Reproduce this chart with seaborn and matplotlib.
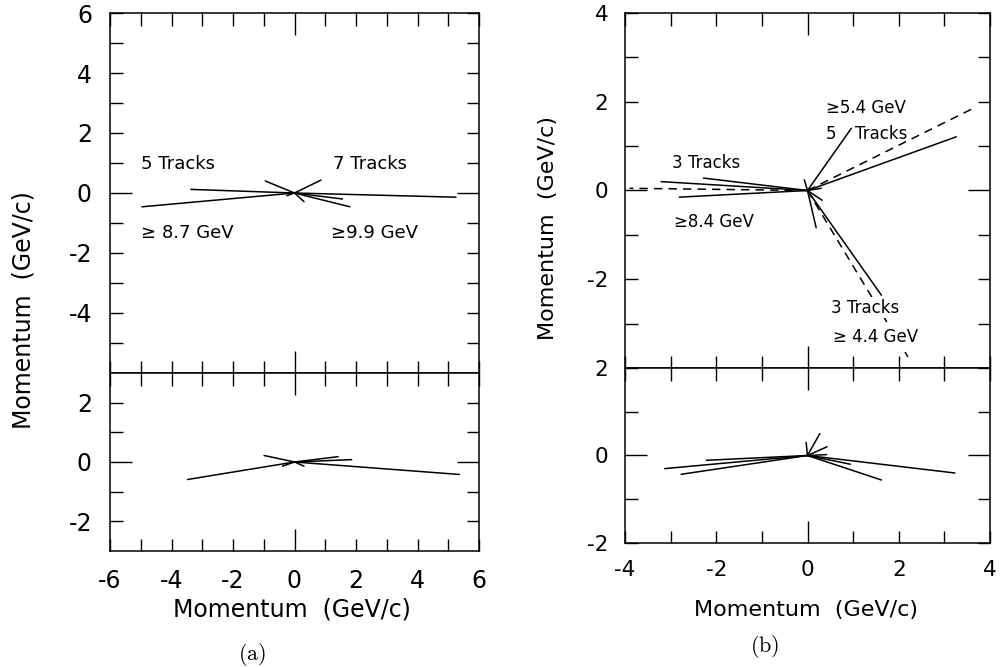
import seaborn as sns
import matplotlib.pyplot as plt
import pandas as pd
import numpy as np

# -----------------------------
# Track end points (tracks start at the origin)
# -----------------------------
# panel (a), upper view
a_top_x = [-4.96, -3.37, -0.95, -0.25, 5.25, 0.86, 1.56, 1.80, 0.31]
a_top_y = [-0.46, 0.12, 0.40, -0.09, -0.14, 0.43, -0.20, -0.46, -0.29]
a_top_kind = ["solid"] * 9

# panel (a), lower view
a_bot_x = [-3.48, 5.36, -0.99, 1.42, 1.86, 0.31, -0.39]
a_bot_y = [-0.59, -0.42, 0.22, 0.18, 0.08, -0.14, -0.14]
a_bot_kind = ["solid"] * 7

# panel (b), upper view
b_top_x = [3.26, 0.96, -3.21, -2.28, -2.81, 1.62, 0.19, 0.32, 0.30, -0.07, 3.61, -3.90, 2.20]
b_top_y = [1.21, 1.40, 0.20, 0.28, -0.15, -2.36, -0.84, -0.22, 0.05, 0.24, 1.84, 0.05, -3.75]
b_top_kind = ["solid"] * 10 + ["dashed"] * 3

# panel (b), lower view
b_bot_x = [-3.13, -2.77, -2.22, 3.23, 1.62, 0.94, 0.27, 0.43, 0.42, -0.03]
b_bot_y = [-0.30, -0.43, -0.11, -0.40, -0.56, -0.20, 0.50, 0.20, 0.02, 0.30]
b_bot_kind = ["solid"] * 10

# tick positions and the labels that are printed
a_xticks = list(range(-6, 7))
a_xlabels = ["-6", "", "-4", "", "-2", "", "0", "", "2", "", "4", "", "6"]
a_top_yticks = list(range(-5, 7))
a_top_ylabels = ["", "-4", "", "-2", "", "0", "", "2", "", "4", "", "6"]
a_bot_yticks = list(range(-2, 3))
a_bot_ylabels = ["-2", "", "0", "", "2"]

b_xticks = list(range(-4, 5))
b_xlabels = ["-4", "", "-2", "", "0", "", "2", "", "4"]
b_top_yticks = list(range(-3, 5))
b_top_ylabels = ["", "-2", "", "0", "", "2", "", "4"]
b_bot_yticks = list(range(-2, 3))
b_bot_ylabels = ["-2", "", "0", "", "2"]


def tracks_frame(xs, ys, kinds):
    rows = []
    for i, (x, y, k) in enumerate(zip(xs, ys, kinds)):
        rows.append({"track": i, "px": 0.0, "py": 0.0, "kind": k})
        rows.append({"track": i, "px": x, "py": y, "kind": k})
    return pd.DataFrame(rows)


# -----------------------------
# Visualization
# -----------------------------
sns.set_style("ticks", {"xtick.direction": "in", "ytick.direction": "in"})
plt.rcParams["font.family"] = ["DejaVu Sans"]
plt.rcParams["axes.unicode_minus"] = False
plt.rcParams["mathtext.fontset"] = "cm"
plt.rcParams["axes.edgecolor"] = "black"
plt.rcParams["axes.linewidth"] = 1.1
plt.rcParams["text.color"] = "black"

fig = plt.figure(figsize=(10, 6.67), dpi=100)

ax_at = fig.add_axes([0.110, 0.4408, 0.369, 0.5397])
ax_ab = fig.add_axes([0.110, 0.1739, 0.369, 0.2669])
ax_bt = fig.add_axes([0.625, 0.4483, 0.365, 0.5322])
ax_bb = fig.add_axes([0.625, 0.1859, 0.365, 0.2624])


def set_axis_ticks(setter, lsetter, ticks, labels):
    # zero gets the long (major) tick, the rest are short (minor) ticks
    labels = labels if labels else [""] * len(ticks)
    zero = [l for t, l in zip(ticks, labels) if t == 0]
    rest = [(t, l) for t, l in zip(ticks, labels) if t != 0]
    setter([0])
    lsetter(zero)
    setter([t for t, _ in rest], minor=True)
    lsetter([l for _, l in rest], minor=True)


def draw(ax, xs, ys, kinds, xlim, ylim, xt, xl, yt, yl, fs, pad):
    df = tracks_frame(xs, ys, kinds)
    sns.lineplot(data=df, x="px", y="py", units="track", estimator=None,
                 sort=False, style="kind",
                 dashes={"solid": "", "dashed": (5.5, 4)},
                 color="black", lw=1.1, legend=False, ax=ax)
    ax.set_xlim(*xlim)
    ax.set_ylim(*ylim)
    ax.set_xlabel("")
    ax.set_ylabel("")
    set_axis_ticks(ax.set_xticks, ax.set_xticklabels, xt, xl)
    set_axis_ticks(ax.set_yticks, ax.set_yticklabels, yt, yl)
    ax.tick_params(which="both", direction="in", top=True, right=True,
                   width=1.0, colors="black", labelsize=fs, pad=pad)
    ax.tick_params(which="major", length=16)
    ax.tick_params(which="minor", length=9)
    for s in ax.spines.values():
        s.set_visible(True)


# panel (a)
draw(ax_at, a_top_x, a_top_y, a_top_kind, (-6, 6), (-6, 6),
     a_xticks, None, a_top_yticks, a_top_ylabels, 17, 13)
draw(ax_ab, a_bot_x, a_bot_y, a_bot_kind, (-6, 6), (-3, 3),
     a_xticks, a_xlabels, a_bot_yticks, a_bot_ylabels, 17, 13)

ta = dict(fontsize=13, ha="left", va="center")
ax_at.text(-5.0, 0.98, "5 Tracks", **ta)
ax_at.text(1.24, 0.98, "7 Tracks", **ta)
ax_at.text(-5.0, -1.32, "\u2265 8.7 GeV", **ta)
ax_at.text(1.18, -1.32, "\u22659.9 GeV", **ta)

# panel (b)
draw(ax_bt, b_top_x, b_top_y, b_top_kind, (-4, 4), (-4, 4),
     b_xticks, None, b_top_yticks, b_top_ylabels, 15.5, 12)
draw(ax_bb, b_bot_x, b_bot_y, b_bot_kind, (-4, 4), (-2, 2),
     b_xticks, b_xlabels, b_bot_yticks, b_bot_ylabels, 15.5, 12)

tb = dict(fontsize=12, ha="left", va="center")
ax_bt.text(0.41, 1.87, "\u22655.4 GeV", **tb)
ax_bt.text(0.41, 1.28, "5 ", **tb)
ax_bt.text(1.05, 1.28, "Tracks", **tb)
ax_bt.text(-2.96, 0.62, "3 Tracks", **tb)
ax_bt.text(-2.92, -0.71, "\u22658.4 GeV", **tb)
ax_bt.text(0.52, -2.64, "3 Tracks", bbox=dict(fc="white", ec="none", pad=1), **tb)
ax_bt.text(0.55, -3.30, "\u2265 4.4 GeV", bbox=dict(fc="white", ec="none", pad=1), **tb)

# axis titles and captions
fig.text(0.292, 0.0855, "Momentum  (GeV/c)", fontsize=17, ha="center", va="center")
fig.text(0.806, 0.0855, "Momentum  (GeV/c)", fontsize=16, ha="center", va="center")
fig.text(0.024, 1 - 310 / 667, "Momentum  (GeV/c)", fontsize=17, rotation=90,
         ha="center", va="center")
fig.text(0.548, 1 - 228 / 667, "Momentum  (GeV/c)", fontsize=16, rotation=90,
         ha="center", va="center")
fig.text(0.252, 1 - 654 / 667, r"$\mathrm{(a)}$", fontsize=16, ha="center", va="center")
fig.text(0.765, 1 - 647 / 667, r"$\mathrm{(b)}$", fontsize=16, ha="center", va="center")

plt.savefig("out.png", dpi=100)
plt.close()
